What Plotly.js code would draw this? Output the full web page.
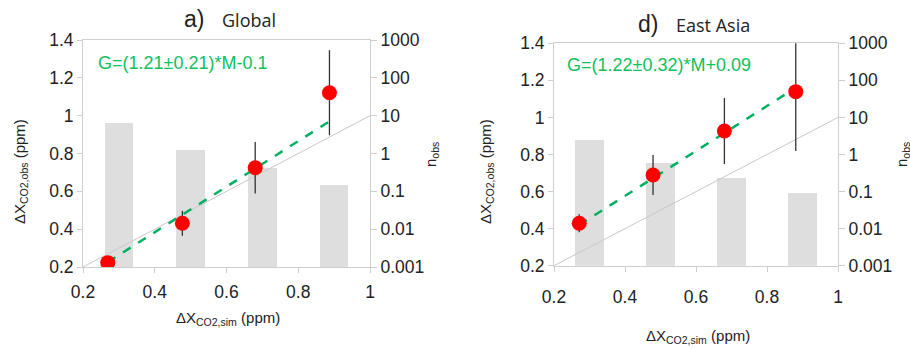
<!DOCTYPE html>
<html>
<head>
<meta charset="utf-8">
<script src="https://cdn.plot.ly/plotly-3.0.1.min.js"></script>
<style>html,body{margin:0;padding:0;background:#fff;}#chart{width:910px;height:349px;}</style>
</head>
<body>
<div id="chart"></div>
<script>
// ---------- data ----------
const barX = [0.3, 0.5, 0.7, 0.9];
const globalN = [6.4, 1.24, 0.42, 0.148];
const eastAsiaN = [2.45, 0.58, 0.23, 0.093];

const globalSim = [0.269, 0.477, 0.680, 0.887];
const globalObs = [0.223, 0.431, 0.725, 1.121];
const globalErr = [0.02, 0.066, 0.136, 0.225];

const eastAsiaSim = [0.271, 0.479, 0.680, 0.881];
const eastAsiaObs = [0.429, 0.689, 0.927, 1.139];
const eastAsiaErr = [0.048, 0.108, 0.178, 0.32];

const globalFitX = [0.269, 0.887];
const globalFitY = [0.226, 0.970];
const eastAsiaFitX = [0.271, 0.881];
const eastAsiaFitY = [0.42, 1.16];

const oneToOne = [0.2, 1.0];

const yTickVals = [0.2, 0.4, 0.6, 0.8, 1.0, 1.2, 1.4];
const nTickVals = [0.001, 0.01, 0.1, 1, 10, 100, 1000];
const nTickText = ['0.001', '0.01', '0.1', '1', '10', '100', '1000'];
const xTickVals = [0.2, 0.4, 0.6, 0.8, 1.0];

const globalEq = 'G=(1.21±0.21)*M-0.1';
const eastAsiaEq = 'G=(1.22±0.32)*M+0.09';

// ---------- helpers ----------
const W = 910, H = 349;
const px = v => v / W;
const py = v => 1 - v / H;
const axisGray = '#cfcfcf';
const tickFont = {family: 'Liberation Sans, Arial, sans-serif', size: 17.5, color: '#222'};
const green = '#10c060';

function xAxis(dom, anchor, standoff) {
  return {domain: dom, anchor: anchor, range: [0.2, 1.0], tickvals: xTickVals,
    ticks: 'outside', ticklen: 5, tickcolor: axisGray, showline: true, linecolor: axisGray,
    linewidth: 1, mirror: true, showgrid: false, zeroline: false, tickfont: tickFont,
    ticklabelstandoff: standoff};
}
function nAxis(dom, anchor) {
  return {domain: dom, anchor: anchor, type: 'log', side: 'right', range: [-3, 3],
    tickvals: nTickVals, ticktext: nTickText, ticks: 'outside', ticklen: 6, tickcolor: axisGray,
    showline: true, linecolor: axisGray, showgrid: false, zeroline: false, tickfont: tickFont};
}
function vAxis(overlay, anchor) {
  return {overlaying: overlay, anchor: anchor, side: 'left', range: [0.2, 1.4], tickvals: yTickVals,
    ticks: 'outside', ticklen: 5, tickcolor: axisGray, showline: true, linecolor: axisGray,
    showgrid: false, zeroline: false, tickfont: tickFont};
}

function panel(xa, ya, yb, nVals, sim, obs, err, fx, fy) {
  return [
    {type: 'bar', x: barX, y: nVals, base: 0.001, width: 0.08, xaxis: xa, yaxis: ya,
      marker: {color: '#dedede'}, hoverinfo: 'skip', showlegend: false},
    {type: 'scatter', mode: 'lines', x: oneToOne, y: oneToOne, xaxis: xa, yaxis: yb,
      line: {color: '#c8c8c8', width: 1}, showlegend: false},
    {type: 'scatter', mode: 'lines', x: fx, y: fy, xaxis: xa, yaxis: yb,
      line: {color: '#00b060', width: 2.5, dash: 'dash'}, showlegend: false},
    {type: 'scatter', mode: 'markers', x: sim, y: obs, xaxis: xa, yaxis: yb,
      marker: {color: '#ff0000', size: 15},
      error_y: {type: 'data', array: err, visible: true, color: '#333', thickness: 1.3, width: 0},
      showlegend: false, cliponaxis: true}
  ];
}

const data = [].concat(
  panel('x', 'y', 'y2', globalN, globalSim, globalObs, globalErr, globalFitX, globalFitY),
  panel('x2', 'y3', 'y4', eastAsiaN, eastAsiaSim, eastAsiaObs, eastAsiaErr, eastAsiaFitX, eastAsiaFitY)
);

const labFont = {family: 'Liberation Sans, Arial, sans-serif', size: 15, color: '#222'};
const eqFont = {family: 'Liberation Sans, Arial, sans-serif', size: 18, color: green};
const letterFont = {family: 'Liberation Sans, Arial, sans-serif', size: 23, color: '#222'};
const nameFont = {family: 'Open Sans, sans-serif', size: 18, color: '#222'};

function ann(x, y, text, font, extra) {
  return Object.assign({xref: 'paper', yref: 'paper', x: px(x), y: py(y), text: text,
    showarrow: false, font: font, xanchor: 'center', yanchor: 'middle'}, extra || {});
}

const layout = {
  width: W, height: H, margin: {l: 0, r: 0, t: 0, b: 0},
  paper_bgcolor: '#fff', plot_bgcolor: 'rgba(0,0,0,0)', showlegend: false, bargap: 0,
  xaxis: xAxis([px(83), px(370)], 'y', 4),
  yaxis: nAxis([py(267), py(40)], 'x'),
  yaxis2: vAxis('y', 'x'),
  xaxis2: xAxis([px(554), px(838)], 'y3', 10),
  yaxis3: nAxis([py(265.7), py(43.3)], 'x2'),
  yaxis4: vAxis('y3', 'x2'),
  annotations: [
    ann(194, 19, 'a)', letterFont),
    ann(249, 20, 'Global', nameFont),
    ann(648, 24, 'd)', letterFont),
    ann(713, 25, 'East Asia', nameFont),
    ann(96, 63, globalEq, eqFont, {xanchor: 'left'}),
    ann(565, 65, eastAsiaEq, eqFont, {xanchor: 'left'}),
    ann(20, 172, 'ΔX<sub>CO2,obs</sub> (ppm)', labFont, {textangle: -90}),
    ann(486, 172, 'ΔX<sub>CO2,obs</sub> (ppm)', labFont, {textangle: -90}),
    ann(431, 155, 'n<sub>obs</sub>', labFont, {textangle: -90}),
    ann(902, 155, 'n<sub>obs</sub>', labFont, {textangle: -90}),
    ann(228, 318, 'ΔX<sub>CO2,sim</sub> (ppm)', labFont),
    ann(698, 336, 'ΔX<sub>CO2,sim</sub> (ppm)', labFont)
  ]
};

Plotly.newPlot('chart', data, layout, {staticPlot: true, displayModeBar: false});
</script>
</body>
</html>
